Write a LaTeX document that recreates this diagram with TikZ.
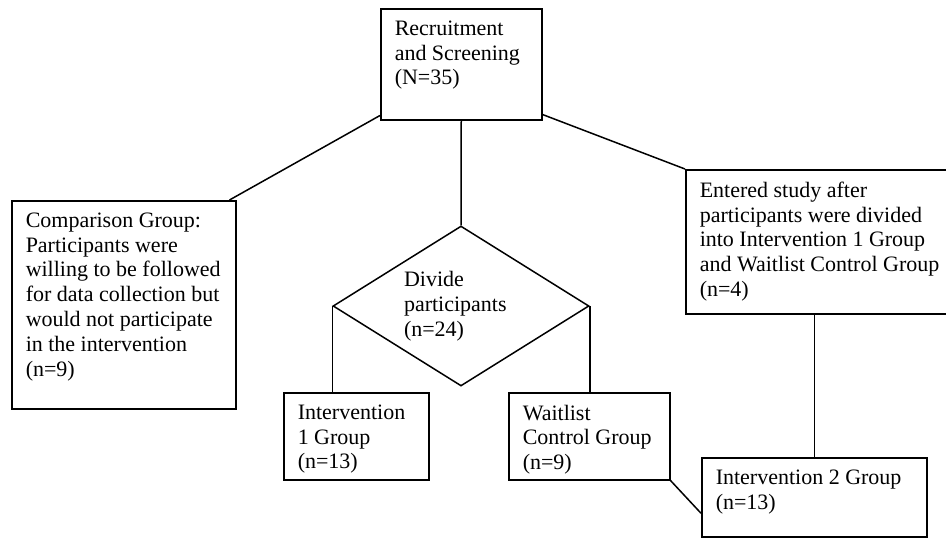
\documentclass[tikz,border=0pt]{standalone}
\usepackage{fontspec}
\setmainfont{Liberation Serif}
\usetikzlibrary{shapes.geometric}

\newcommand{\boxtext}[3]{\parbox[t][#2][t]{#1}{\leftskip = 14pt \rightskip = 0pt plus 1fil \parfillskip = 0pt plus 1fil #3}}

\begin{document}
\begin{tikzpicture}[
        x = 1pt,
        y = -1pt,
        line width = 1.5pt,
        every node/.style = {font = \fontsize{22}{24.8}\selectfont},
        stage/.style = {draw, anchor = north west, inner xsep = 0pt, inner ysep = 12pt}
    ]
        \useasboundingbox (0,0) rectangle (946,538);
        \node[stage] (rec) at (380,8) {\boxtext{161pt}{87pt}{Recruitment\\and Screening\\(N=35)}};
        \node[stage] (cmp) at (11,200) {\boxtext{224pt}{184pt}{Comparison Group:\\Participants were\\willing to be followed\\for data collection but\\would not participate\\in the intervention\\(n=9)}};
        \node[draw, diamond, aspect = 1.6, minimum width = 256pt, minimum height = 160pt, inner sep = 0pt, text width = 114pt, align = left] (div) at (461,306) {Divide\\participants\\(n=24)};
        \node[stage] (int1) at (283,392) {\boxtext{145pt}{63pt}{Intervention\\1 Group\\(n=13)}};
        \node[stage] (wait) at (508,392) {\boxtext{161pt}{63pt}{Waitlist\\Control Group\\(n=9)}};
        \node[stage] (ent) at (685,169) {\boxtext{270pt}{120pt}{Entered study after\\participants were divided\\into Intervention 1 Group\\and Waitlist Control Group\\(n=4)}};
        \node[stage] (int2) at (701,457) {\boxtext{225pt}{55pt}{Intervention 2 Group\\(n=13)}};
        \draw ([yshift = 5pt]rec.south west) -- ([xshift = -7pt]cmp.north east);
        \draw ([yshift = 6pt]rec.south east) -- (ent.north west);
        \draw (rec.south) -- (div.north);
        \draw (div.west) -- (div.west |- int1.north);
        \draw (div.east) -- (div.east |- wait.north);
        \draw (int2.north |- ent.south) -- (int2.north);
        \draw (wait.south east) -- ([yshift = -16pt]int2.west);
    \end{tikzpicture}
\end{document}
